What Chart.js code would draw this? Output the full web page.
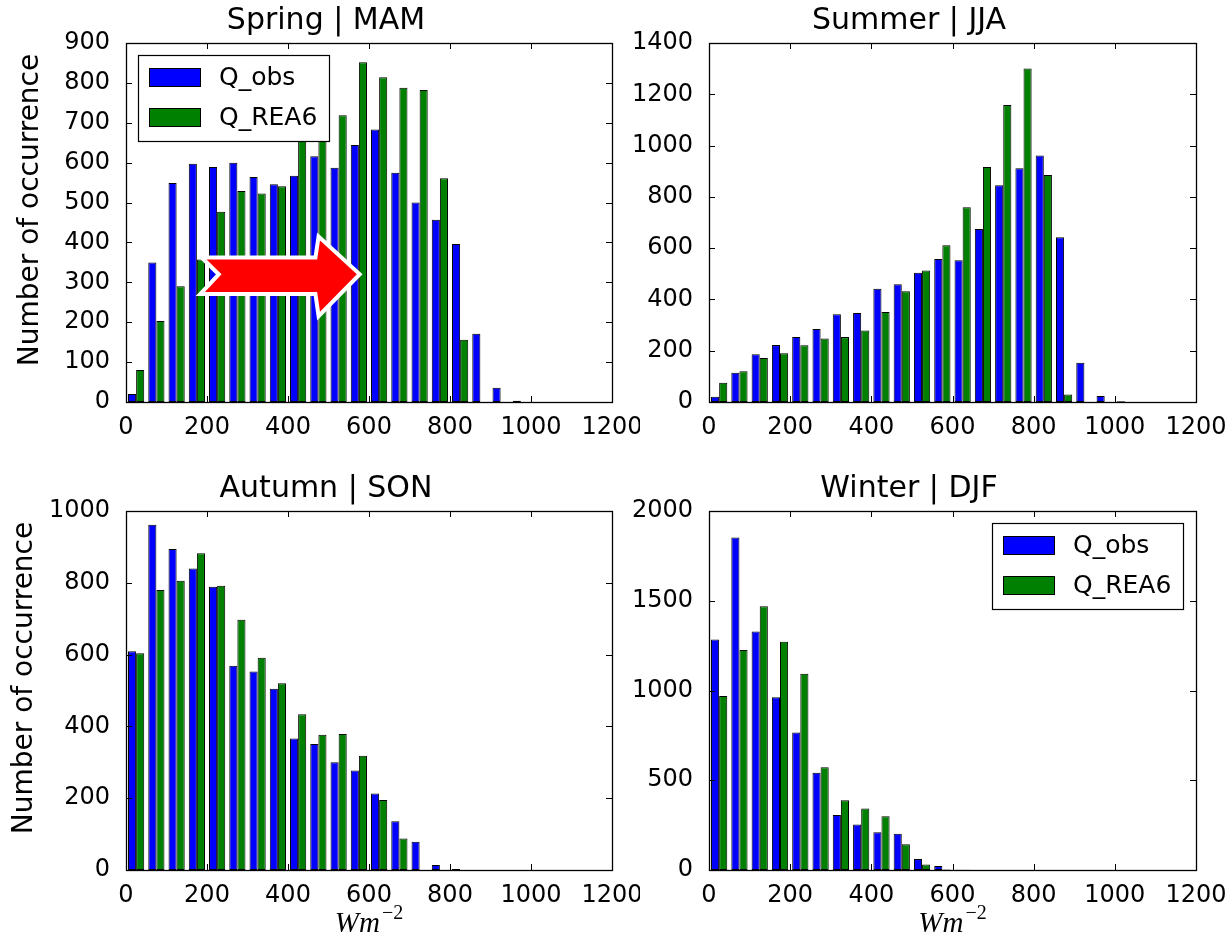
<!DOCTYPE html>
<html>
<head>
<meta charset="utf-8">
<script src="https://cdn.jsdelivr.net/npm/chart.js@4.4.1/dist/chart.umd.min.js"></script>
<style>
  body { margin: 0; background: #fff; width: 1230px; height: 936px; position: relative; overflow: hidden; }
  canvas { position: absolute; }
</style>
</head>
<body>
<canvas id="spring" width="640" height="468" style="left:0;top:0"></canvas>
<canvas id="summer" width="610" height="468" style="left:620px;top:0"></canvas>
<canvas id="autumn" width="640" height="468" style="left:0;top:468px"></canvas>
<canvas id="winter" width="610" height="468" style="left:620px;top:468px"></canvas>
<script>
// bin centres in W m-2 (bin width 50)
const binCenters = [25, 75, 125, 175, 225, 275, 325, 375, 425, 475, 525, 575,
                    625, 675, 725, 775, 825, 875, 925, 975, 1025, 1075];
const xTicks = [0, 200, 400, 600, 800, 1000, 1200];

// counts per bin
const springObs  = [20, 350, 549, 597, 589, 600, 564, 546, 567, 616, 587, 644, 683, 575, 500, 457, 396, 171, 36, 3, 0, 0];
const springRea  = [80, 203, 290, 357, 477, 529, 523, 541, 665, 680, 719, 852, 814, 788, 782, 561, 156, 0, 0, 0, 0, 0];
const summerObs  = [20, 114, 186, 222, 253, 285, 342, 347, 442, 459, 504, 558, 553, 675, 845, 912, 961, 642, 153, 23, 3, 0];
const summerRea  = [75, 120, 172, 190, 221, 248, 253, 279, 351, 432, 513, 611, 759, 916, 1158, 1301, 885, 29, 0, 0, 0, 0];
const autumnObs  = [609, 962, 894, 840, 789, 569, 553, 505, 366, 351, 300, 277, 213, 136, 79, 14, 3, 0, 0, 0, 0, 0];
const autumnRea  = [604, 780, 806, 882, 792, 697, 591, 520, 434, 377, 379, 318, 195, 88, 0, 0, 0, 0, 0, 0, 0, 0];
const winterObs  = [1284, 1852, 1328, 963, 766, 542, 306, 254, 210, 202, 61, 22, 2, 0, 0, 0, 0, 0, 0, 0, 0, 0];
const winterRea  = [970, 1226, 1469, 1271, 1093, 573, 388, 343, 299, 143, 30, 3, 2, 0, 0, 0, 0, 0, 0, 0, 0, 0];

// the shift arrow drawn on the spring panel, in data units
const arrowX = [199, 236, 195, 472, 479, 570, 479, 472];
const arrowY = [357, 320, 276, 276, 226, 320, 405, 357];

const seriesNames = ['Q_obs', 'Q_REA6'];
const seriesColors = ['#0000ff', '#008000'];

Chart.defaults.font.family = '"DejaVu Sans", sans-serif';
Chart.defaults.color = '#000';

// frame plus inward ticks on all four sides, matplotlib style
const frameTicks = {
  id: 'frameTicks',
  afterDatasetsDraw(chart) {
    const { ctx, chartArea: a, scales: { x, y } } = chart;
    ctx.save();
    ctx.strokeStyle = '#000';
    ctx.lineWidth = 1;
    ctx.beginPath();
    x.ticks.forEach(t => {
      const px = Math.round(x.getPixelForValue(t.value)) + 0.5;
      ctx.moveTo(px, a.bottom); ctx.lineTo(px, a.bottom - 6);
      ctx.moveTo(px, a.top); ctx.lineTo(px, a.top + 6);
    });
    y.ticks.forEach(t => {
      const py = Math.round(y.getPixelForValue(t.value)) + 0.5;
      ctx.moveTo(a.left, py); ctx.lineTo(a.left + 6, py);
      ctx.moveTo(a.right, py); ctx.lineTo(a.right - 6, py);
    });
    ctx.stroke();
    ctx.lineWidth = 1.3;
    ctx.strokeRect(Math.round(a.left) + 0.5, Math.round(a.top) + 0.5,
                   Math.round(a.right - a.left), Math.round(a.bottom - a.top));
    ctx.restore();
  }
};

// boxed legend placed inside the axes
const boxLegend = {
  id: 'boxLegend',
  afterDraw(chart, args, opts) {
    if (!opts.show) return;
    const { ctx, chartArea: a } = chart;
    const w = 191, h = 86;
    const left = opts.side === 'left' ? a.left + 12 : a.right - 13 - w;
    const top = a.top + 12;
    ctx.save();
    ctx.fillStyle = '#fff';
    ctx.fillRect(left, top, w, h);
    ctx.strokeStyle = '#000';
    ctx.lineWidth = 1.2;
    ctx.strokeRect(left + 0.5, top + 0.5, w, h);
    ctx.font = '25px "DejaVu Sans"';
    ctx.textBaseline = 'middle';
    chart.data.datasets.forEach((ds, i) => {
      const cy = top + 22 + i * 40;
      ctx.fillStyle = ds.backgroundColor;
      ctx.fillRect(left + 11, cy - 9, 51, 18);
      ctx.lineWidth = 1;
      ctx.strokeRect(left + 11.5, cy - 8.5, 51, 18);
      ctx.fillStyle = '#000';
      ctx.fillText(ds.label, left + 81, cy + 1);
    });
    ctx.restore();
  }
};

// red block arrow with white outline
const shiftArrow = {
  id: 'shiftArrow',
  afterDatasetsDraw(chart, args, opts) {
    if (!opts.show) return;
    const { ctx, scales: { x, y } } = chart;
    ctx.save();
    ctx.beginPath();
    arrowX.forEach((vx, i) => {
      const px = x.getPixelForValue(vx), py = y.getPixelForValue(arrowY[i]);
      if (i === 0) ctx.moveTo(px, py); else ctx.lineTo(px, py);
    });
    ctx.closePath();
    ctx.lineJoin = 'miter';
    ctx.strokeStyle = '#fff';
    ctx.lineWidth = 8;
    ctx.stroke();
    ctx.fillStyle = '#ff0000';
    ctx.fill();
    ctx.restore();
  }
};

// rotated y label and mathtext-like x label
const axisLabels = {
  id: 'axisLabels',
  afterDraw(chart, args, opts) {
    const { ctx, chartArea: a } = chart;
    ctx.save();
    if (opts.ylabel) {
      ctx.translate(opts.ylabelX, 210);
      ctx.rotate(-Math.PI / 2);
      ctx.font = '28px "DejaVu Sans"';
      ctx.textAlign = 'center';
      ctx.textBaseline = 'middle';
      ctx.fillStyle = '#000';
      ctx.fillText('Number of occurrence', 0, 0);
      ctx.setTransform(1, 0, 0, 1, 0, 0);
    }
    if (opts.xlabel) {
      ctx.fillStyle = '#000';
      ctx.textBaseline = 'alphabetic';
      ctx.textAlign = 'left';
      ctx.font = 'italic 29px "Liberation Serif"';
      const w1 = ctx.measureText('Wm').width;
      ctx.font = '20px "Liberation Serif"';
      const w2 = ctx.measureText('\u22122').width;
      const x0 = (a.left + a.right) / 2 - (w1 + w2 + 2) / 2;
      ctx.font = 'italic 29px "Liberation Serif"';
      ctx.fillText('Wm', x0, 464);
      ctx.font = '20px "Liberation Serif"';
      ctx.fillText('\u22122', x0 + w1 + 2, 451);
    }
    ctx.restore();
  }
};

function makePanel(id, title, obs, rea, yMax, yStep, cfg) {
  new Chart(document.getElementById(id), {
    type: 'bar',
    data: {
      datasets: [obs, rea].map((vals, i) => ({
        label: seriesNames[i],
        data: binCenters.map((c, j) => ({ x: c, y: vals[j] })),
        backgroundColor: seriesColors[i],
        borderColor: '#000',
        borderWidth: 1,
        borderSkipped: false,
        categoryPercentage: 0.8,
        barPercentage: 1.0
      }))
    },
    options: {
      responsive: false,
      animation: false,
      layout: { padding: { left: cfg.padLeft, right: cfg.padRight, top: 0, bottom: 0 } },
      scales: {
        x: {
          type: 'linear',
          offset: false,
          min: 0, max: 1200,
          grid: { display: false, offset: false },
          border: { display: false },
          afterBuildTicks: s => { s.ticks = xTicks.map(v => ({ value: v })); },
          ticks: { font: { size: 24 }, padding: 3, maxRotation: 0, callback: v => String(v) },
          afterFit: s => { s.height = 66; s.paddingLeft = 0; s.paddingRight = 0; }
        },
        y: {
          min: 0, max: yMax,
          grid: { display: false },
          border: { display: false },
          ticks: { stepSize: yStep, font: { size: 24 }, padding: 8, callback: v => String(v) },
          afterFit: s => { s.width = cfg.yWidth; s.paddingTop = 0; s.paddingBottom = 0; }
        }
      },
      plugins: {
        legend: { display: false },
        tooltip: { enabled: false },
        title: {
          display: true,
          text: title,
          font: { size: 30, weight: 'normal' },
          color: '#000',
          padding: { top: 3, bottom: 4 }
        },
        boxLegend: { show: !!cfg.legend, side: cfg.legend },
        shiftArrow: { show: !!cfg.arrow },
        axisLabels: { ylabel: cfg.ylabel, ylabelX: cfg.ylabelX, xlabel: cfg.xlabel }
      }
    },
    plugins: [frameTicks, shiftArrow, boxLegend, axisLabels]
  });
}

makePanel('spring', 'Spring | MAM', springObs, springRea, 900, 100,
  { padLeft: 40, padRight: 28, yWidth: 86, legend: 'left', arrow: true, ylabel: true, ylabelX: 31 });
makePanel('summer', 'Summer | JJA', summerObs, summerRea, 1400, 200,
  { padLeft: 2, padRight: 34, yWidth: 87 });
makePanel('autumn', 'Autumn | SON', autumnObs, autumnRea, 1000, 200,
  { padLeft: 40, padRight: 28, yWidth: 86, ylabel: true, ylabelX: 25, xlabel: true });
makePanel('winter', 'Winter | DJF', winterObs, winterRea, 2000, 500,
  { padLeft: 2, padRight: 34, yWidth: 87, legend: 'right', xlabel: true });
</script>
</body>
</html>
